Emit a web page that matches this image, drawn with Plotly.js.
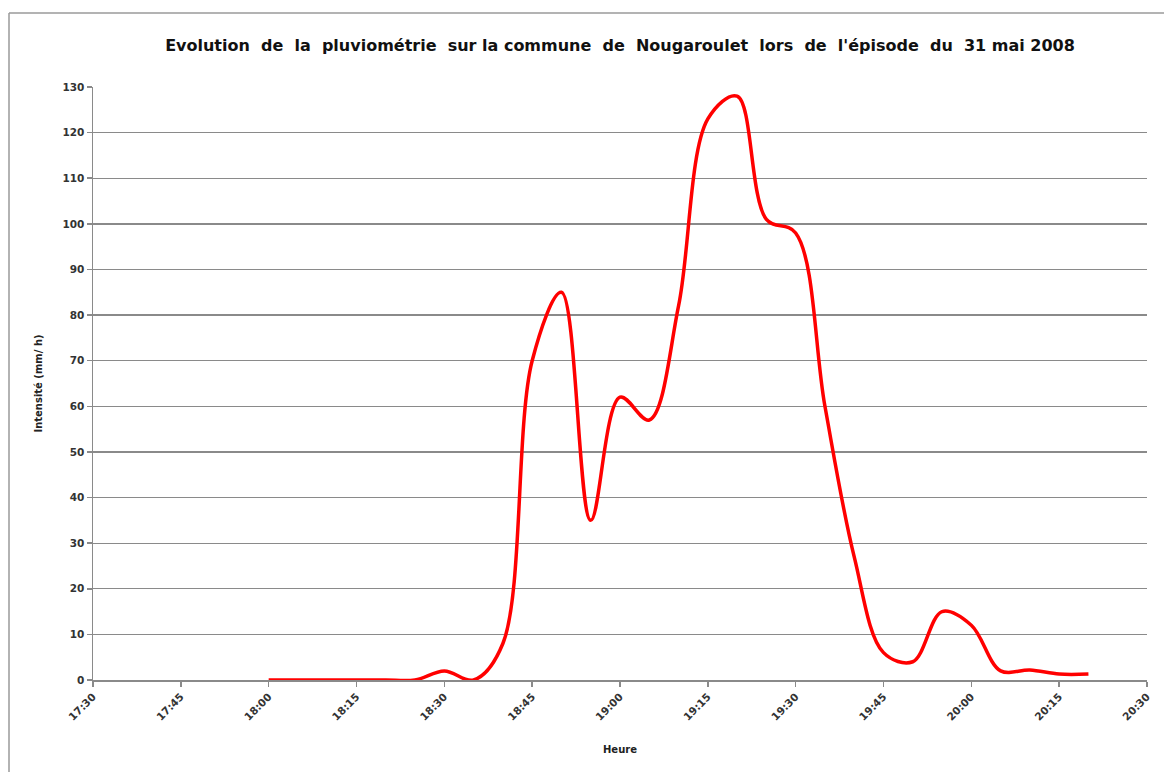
<!DOCTYPE html>
<html>
<head>
<meta charset="utf-8">
<script src="https://cdn.plot.ly/plotly-3.0.1.min.js"></script>
<style>html,body{margin:0;padding:0;background:#fff;}#chart{width:1164px;height:772px;}</style>
</head>
<body>
<div id="chart"></div>
<script>
const times = ["2008-05-31 18:00","2008-05-31 18:05","2008-05-31 18:10","2008-05-31 18:15","2008-05-31 18:20","2008-05-31 18:25","2008-05-31 18:30","2008-05-31 18:35","2008-05-31 18:40","2008-05-31 18:45","2008-05-31 18:50","2008-05-31 18:55","2008-05-31 19:00","2008-05-31 19:05","2008-05-31 19:10","2008-05-31 19:15","2008-05-31 19:20","2008-05-31 19:25","2008-05-31 19:30","2008-05-31 19:35","2008-05-31 19:40","2008-05-31 19:45","2008-05-31 19:50","2008-05-31 19:55","2008-05-31 20:00","2008-05-31 20:05","2008-05-31 20:10","2008-05-31 20:15","2008-05-31 20:20"];
const intensite = [0,0,0,0,0,0,2,0,8,70,85,35,62,57,82,123,128,101,98,60,27,6,4,15,12,2,2.2,1.3,1.3];
const chartTitle = "Evolution\u00a0 de\u00a0 la\u00a0 pluviométrie\u00a0 sur la commune\u00a0 de\u00a0 Nougaroulet\u00a0 lors\u00a0 de\u00a0 l'épisode\u00a0 du\u00a0 31 mai 2008";
const yTitle = "Intensité (mm/ h)";
const xTitle = "Heure";
const xRange = ["2008-05-31 17:30","2008-05-31 20:30"];

const tickFont = {family:"DejaVu Sans", size:10.5, color:"#333", weight:"bold"};
const trace = {
  x: times, y: intensite, type:"scatter", mode:"lines",
  line:{color:"#ff0000", width:3.5, shape:"spline", smoothing:1},
  hoverinfo:"skip"
};
const L = 93, R = 1147, T = 87, B = 680;
const pw = R-L, ph = B-T;
const layout = {
  width:1164, height:772,
  margin:{l:L, r:1164-R, t:T, b:772-B},
  paper_bgcolor:"#fff", plot_bgcolor:"#fff",
  showlegend:false,
  title:{text:chartTitle, font:{family:"DejaVu Sans", size:16, color:"#111", weight:"bold"},
         x:0.5, xref:"paper", y:1-45/772, yanchor:"middle"},
  xaxis:{type:"date", range:xRange, dtick:15*60*1000, tick0:"2008-05-31 17:30", tickformat:"%H:%M",
         tickangle:-45, tickfont:tickFont, showgrid:false, zeroline:false,
         showline:true, linecolor:"#8a8a8a", linewidth:1.5,
         ticks:"outside", ticklen:5, tickcolor:"#8a8a8a", tickwidth:1.5,
         title:{text:xTitle, font:{family:"DejaVu Sans", size:10, color:"#222", weight:"bold"}, standoff:24}},
  yaxis:{range:[0,130], dtick:10, tickfont:tickFont, showgrid:true, gridcolor:"#8a8a8a", gridwidth:1.3,
         zeroline:false, showline:true, linecolor:"#8a8a8a", linewidth:1.5,
         ticks:"outside", ticklen:5, tickcolor:"#8a8a8a", tickwidth:1.5,
         title:{text:yTitle, font:{family:"DejaVu Sans", size:10, color:"#222", weight:"bold"}, standoff:18}},
  shapes:[
    {type:"line", xref:"paper", yref:"paper", x0:(9-L)/pw, x1:(1170-L)/pw, y0:(B-13)/ph, y1:(B-13)/ph, line:{color:"#9a9a9a", width:1.5}},
    {type:"line", xref:"paper", yref:"paper", x0:(9-L)/pw, x1:(9-L)/pw, y0:(B-13)/ph, y1:(B-780)/ph, line:{color:"#9a9a9a", width:1.5}}
  ]
};
Plotly.newPlot("chart", [trace], layout, {displayModeBar:false, staticPlot:true});
</script>
</body>
</html>
